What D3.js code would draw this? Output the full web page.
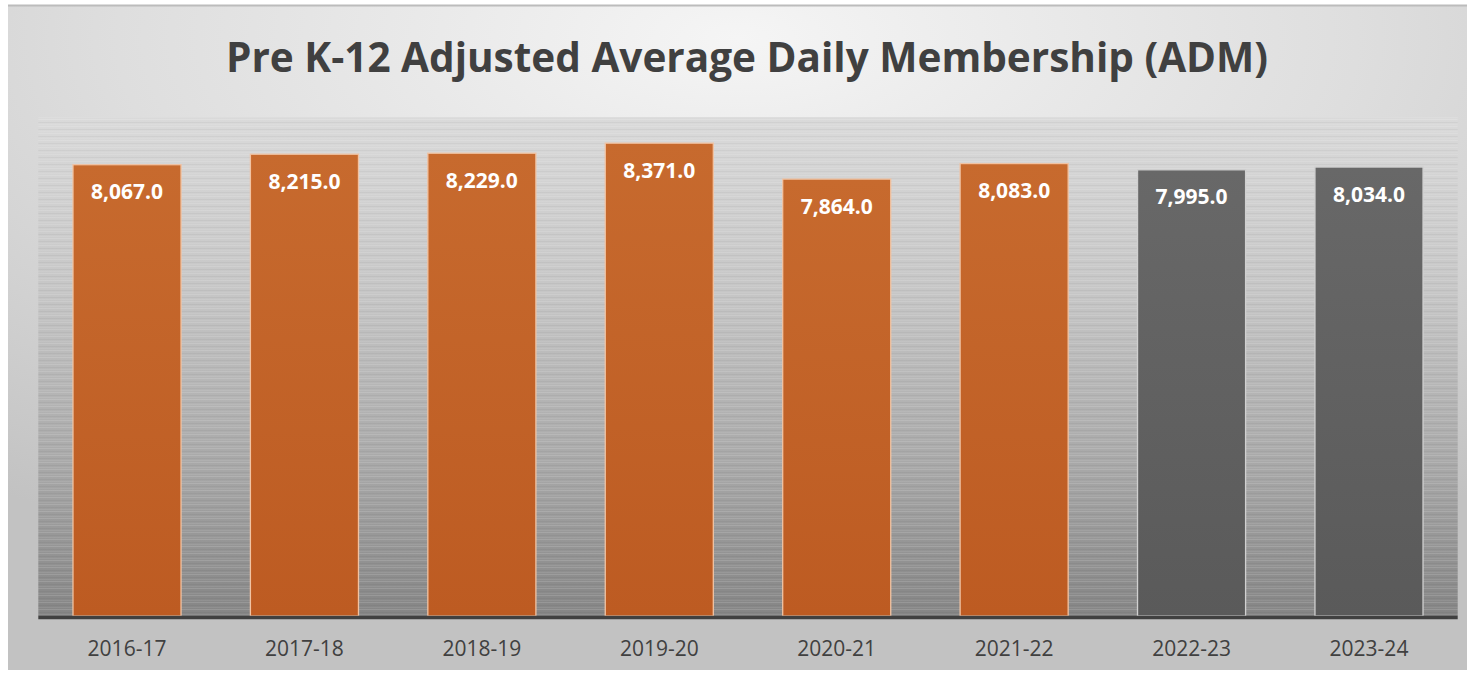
<!DOCTYPE html>
<html>
<head>
<meta charset="utf-8">
<script src="https://cdn.jsdelivr.net/npm/d3@7"></script>
<style>
    html, body { margin: 0; padding: 0; background: #ffffff; }
    svg { display: block; }
</style>
</head>
<body>
<svg id="chart" width="1472" height="674"></svg>
<script>
// # DATA
var categories = ["2016-17", "2017-18", "2018-19", "2019-20", "2020-21", "2021-22", "2022-23", "2023-24"];
var admValues = [8067, 8215, 8229, 8371, 7864, 8083, 7995, 8034];
var barKinds = ["actual", "actual", "actual", "actual", "actual", "actual", "projected", "projected"];
var titleText = "Pre K-12 Adjusted Average Daily Membership (ADM)";

// # LAYOUT
var outer = {x: 8, y: 5, w: 1459, h: 665};
var plot = {left: 38.3, right: 1457.7, top: 117, bottom: 616};
var yDomain = [1700, 8740];

var svg = d3.select("#chart");
var fmt = d3.format(",.1f");

init();

// # FUNCTIONS

function init(){
    setDefs();
    setBackground();
    setTitle();
    setBars();
    setAxis();
    return 0;
}

function setDefs(){
    var defs = svg.append("defs");

    // outer background: light in the middle top, grey towards edges
    var rg = defs.append("radialGradient")
        .attr("id", "outerGrad")
        .attr("cx", "50%").attr("cy", "5%")
        .attr("r", "85%").attr("fx", "50%").attr("fy", "5%");
    rg.append("stop").attr("offset", "0%").attr("stop-color", "#f5f5f5");
    rg.append("stop").attr("offset", "50%").attr("stop-color", "#dedede");
    rg.append("stop").attr("offset", "100%").attr("stop-color", "#c2c2c2");

    // plot area: light top, dark bottom
    var pg = defs.append("linearGradient")
        .attr("id", "plotGrad")
        .attr("x1", 0).attr("y1", 0).attr("x2", 0).attr("y2", 1);
    pg.append("stop").attr("offset", "0%").attr("stop-color", "#dadada");
    pg.append("stop").attr("offset", "35%").attr("stop-color", "#c6c6c6");
    pg.append("stop").attr("offset", "70%").attr("stop-color", "#a8a8a8");
    pg.append("stop").attr("offset", "100%").attr("stop-color", "#858585");

    // brushed stripes over the plot area
    var pat = defs.append("pattern")
        .attr("id", "stripes")
        .attr("patternUnits", "userSpaceOnUse")
        .attr("width", 8).attr("height", 7);
    pat.append("rect").attr("x", 0).attr("y", 0).attr("width", 8).attr("height", 1)
        .attr("fill", "#ffffff").attr("opacity", 0.13);
    pat.append("rect").attr("x", 0).attr("y", 3).attr("width", 8).attr("height", 1)
        .attr("fill", "#000000").attr("opacity", 0.04);
    pat.append("rect").attr("x", 0).attr("y", 5).attr("width", 8).attr("height", 1)
        .attr("fill", "#ffffff").attr("opacity", 0.08);

    var og = defs.append("linearGradient")
        .attr("id", "orangeGrad")
        .attr("x1", 0).attr("y1", 0).attr("x2", 0).attr("y2", 1);
    og.append("stop").attr("offset", "0%").attr("stop-color", "#c76a2e");
    og.append("stop").attr("offset", "100%").attr("stop-color", "#bd5b22");

    var gg = defs.append("linearGradient")
        .attr("id", "greyGrad")
        .attr("x1", 0).attr("y1", 0).attr("x2", 0).attr("y2", 1);
    gg.append("stop").attr("offset", "0%").attr("stop-color", "#686868");
    gg.append("stop").attr("offset", "100%").attr("stop-color", "#5a5a5a");
    return 0;
}

function setBackground(){
    svg.append("rect")
        .attr("x", outer.x).attr("y", outer.y)
        .attr("width", outer.w).attr("height", outer.h)
        .attr("fill", "url(#outerGrad)");

    svg.append("line")
        .attr("x1", outer.x).attr("x2", outer.x + outer.w)
        .attr("y1", outer.y + 0.5).attr("y2", outer.y + 0.5)
        .attr("stroke", "#bcbcbc").attr("stroke-width", 2);

    svg.append("rect")
        .attr("x", plot.left).attr("y", plot.top)
        .attr("width", plot.right - plot.left).attr("height", plot.bottom - plot.top)
        .attr("fill", "url(#plotGrad)");

    svg.append("rect")
        .attr("x", plot.left).attr("y", plot.top)
        .attr("width", plot.right - plot.left).attr("height", plot.bottom - plot.top)
        .attr("fill", "url(#stripes)");
    return 0;
}

function setTitle(){
    svg.append("text")
        .attr("x", 747)
        .attr("y", 72)
        .attr("text-anchor", "middle")
        .attr("font-family", "'Open Sans', sans-serif")
        .attr("font-weight", 700)
        .attr("font-size", 42)
        .attr("fill", "#404040")
        .attr("textLength", 1042)
        .attr("lengthAdjust", "spacingAndGlyphs")
        .text(titleText);
    return 0;
}

function setBars(){
    var x = d3.scaleBand()
        .domain(categories)
        .range([plot.left, plot.right])
        .paddingInner(0.391)
        .paddingOuter(0.1955);

    var y = d3.scaleLinear()
        .domain(yDomain)
        .range([plot.bottom, plot.top]);

    var rows = categories.map(function(c, i){
        return {cat: c, value: admValues[i], kind: barKinds[i]};
    });

    var g = svg.append("g").attr("class", "bars");

    g.selectAll("rect")
        .data(rows)
        .enter().append("rect")
        .attr("x", function(d){ return x(d.cat); })
        .attr("y", function(d){ return y(d.value); })
        .attr("width", x.bandwidth())
        .attr("height", function(d){ return plot.bottom - y(d.value); })
        .attr("fill", function(d){ return d.kind === "actual" ? "url(#orangeGrad)" : "url(#greyGrad)"; })
        .attr("stroke", function(d){ return d.kind === "actual" ? "#f1c3a3" : "#d0d0d0"; })
        .attr("stroke-width", 1.3);

    g.selectAll("text")
        .data(rows)
        .enter().append("text")
        .attr("x", function(d){ return x(d.cat) + x.bandwidth() / 2; })
        .attr("y", function(d){ return y(d.value) + 34.5; })
        .attr("text-anchor", "middle")
        .attr("font-family", "'Open Sans', sans-serif")
        .attr("font-weight", 700)
        .attr("font-size", 21)
        .attr("fill", "#ffffff")
        .text(function(d){ return fmt(d.value); });

    svg.node().__x = x;
    return 0;
}

function setAxis(){
    var x = svg.node().__x;
    var axis = d3.axisBottom(x).tickSize(0).tickPadding(24);

    var g = svg.append("g")
        .attr("transform", "translate(0," + (plot.bottom + 1.5) + ")")
        .call(axis);

    g.select(".domain")
        .attr("stroke", "#404040")
        .attr("stroke-width", 3.5)
        .attr("d", "M" + plot.left + ",0H" + plot.right);

    g.selectAll(".tick text")
        .attr("font-family", "'Open Sans', sans-serif")
        .attr("font-size", 21)
        .attr("fill", "#404040");
    return 0;
}
</script>
</body>
</html>
